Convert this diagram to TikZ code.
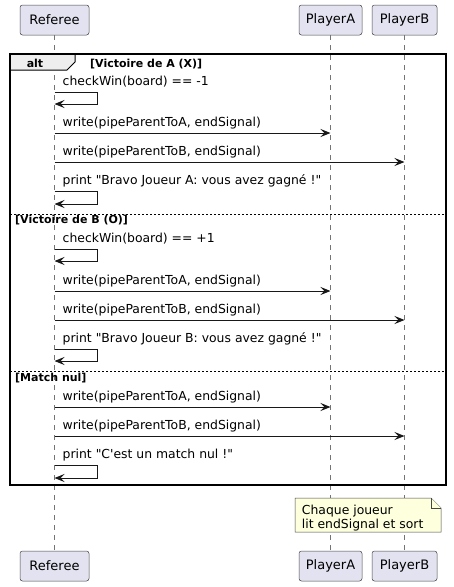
\documentclass[tikz,border=0pt]{standalone}
\usepackage{fontspec}
\setmainfont{DejaVu Sans}[Ligatures=TeXOff]
\usepackage{xcolor}
\usetikzlibrary{arrows.meta,calc,positioning}
\definecolor{ink}{HTML}{181818}
\definecolor{partfill}{HTML}{E2E2F0}
\definecolor{notefill}{HTML}{FEFFDD}
\definecolor{tabfill}{HTML}{EEEEEE}
\tikzset{
  >={Stealth[length=10pt,width=8pt,inset=4pt]},
  part/.style={draw=ink!80,fill=partfill,rounded corners=2.5pt,line width=0.5pt,
               minimum height=30pt,inner sep=0pt,font=\fontsize{13}{15}\selectfont},
  life/.style={draw=ink!60,line width=0.5pt,dash pattern=on 5pt off 5pt},
  msg/.style={->,draw=ink,line width=1pt},
  lbl/.style={anchor=base west,inner sep=0pt,font=\fontsize{12.4}{15}\selectfont},
  frame/.style={draw=black,line width=1.5pt},
  sep/.style={draw=black,line width=1pt,dash pattern=on 2pt off 2pt},
  guard/.style={anchor=base west,inner sep=0pt,font=\bfseries\fontsize{11}{13}\selectfont},
  notebox/.style={draw=ink!80,fill=notefill,line width=0.5pt}
}
\begin{document}
\begin{tikzpicture}[x=1pt,y=-1pt]
  \useasboundingbox (0,0) rectangle (453,587);
  % participants, top and bottom
  \node[part,minimum width=69pt] (ref) at (54.5,20) {Referee};
  \node[part,minimum width=63pt] (pa) at (330.5,20) {PlayerA};
  \node[part,minimum width=65pt] (pb) at (404.5,20) {PlayerB};
  \node[part,minimum width=69pt] (refb) at (54.5,566) {Referee};
  \node[part,minimum width=63pt] (pab) at (330.5,566) {PlayerA};
  \node[part,minimum width=65pt] (pbb) at (404.5,566) {PlayerB};
  \draw[life] (ref.south) -- (refb.north);
  \draw[life] (pa.south) -- (pab.north);
  \draw[life] (pb.south) -- (pbb.north);
  % alt frame
  \draw[line width=1pt,fill=tabfill] (10,54) -- (75,54) -- (75,62) -- (67,70) -- (10,70);
  \draw[frame] (10,54) rectangle (446,485);
  \node[guard,anchor=base] (alt) at (35,67) {alt};
  \node[guard] (g1) at (90,67) {[Victoire de A (X)]};
  \draw[sep] (10,214) -- (446,214);
  \node[guard] (g2) at (15,223) {[Victoire de B (O)]};
  \draw[sep] (10,371) -- (446,371);
  \node[guard] (g3) at (15,381) {[Match nul]};
  % rows
  \coordinate (c1) at (0,92);  \coordinate (c1b) at (0,104);
  \coordinate (w1) at (0,133); \coordinate (w2) at (0,162);
  \coordinate (c2) at (0,191); \coordinate (c2b) at (0,204);
  \coordinate (c3) at (0,249); \coordinate (c3b) at (0,261);
  \coordinate (w3) at (0,291); \coordinate (w4) at (0,320);
  \coordinate (c4) at (0,349); \coordinate (c4b) at (0,361);
  \coordinate (w5) at (0,407); \coordinate (w6) at (0,436);
  \coordinate (c5) at (0,465); \coordinate (c5b) at (0,478);
  % Victoire de A
  \node[lbl] (t1) at ($(ref|-c1)+(8,-6.5)$) {checkWin(board) == -1};
  \draw[msg] (ref|-c1) -- ++(43,0) |- (ref|-c1b);
  \node[lbl] (t2) at ($(ref|-w1)+(8,-6.5)$) {write(pipeParentToA, endSignal)};
  \draw[msg] (ref|-w1) -- (pa|-w1);
  \node[lbl] (t3) at ($(ref|-w2)+(8,-6.5)$) {write(pipeParentToB, endSignal)};
  \draw[msg] (ref|-w2) -- (pb|-w2);
  \node[lbl] (t4) at ($(ref|-c2)+(8,-6.5)$) {print "Bravo Joueur A: vous avez gagné !"};
  \draw[msg] (ref|-c2) -- ++(43,0) |- (ref|-c2b);
  % Victoire de B
  \node[lbl] (t5) at ($(ref|-c3)+(8,-6.5)$) {checkWin(board) == +1};
  \draw[msg] (ref|-c3) -- ++(43,0) |- (ref|-c3b);
  \node[lbl] (t6) at ($(ref|-w3)+(8,-6.5)$) {write(pipeParentToA, endSignal)};
  \draw[msg] (ref|-w3) -- (pa|-w3);
  \node[lbl] (t7) at ($(ref|-w4)+(8,-6.5)$) {write(pipeParentToB, endSignal)};
  \draw[msg] (ref|-w4) -- (pb|-w4);
  \node[lbl] (t8) at ($(ref|-c4)+(8,-6.5)$) {print "Bravo Joueur B: vous avez gagné !"};
  \draw[msg] (ref|-c4) -- ++(43,0) |- (ref|-c4b);
  % Match nul
  \node[lbl] (t9) at ($(ref|-w5)+(8,-6.5)$) {write(pipeParentToA, endSignal)};
  \draw[msg] (ref|-w5) -- (pa|-w5);
  \node[lbl] (t10) at ($(ref|-w6)+(8,-6.5)$) {write(pipeParentToB, endSignal)};
  \draw[msg] (ref|-w6) -- (pb|-w6);
  \node[lbl] (t11) at ($(ref|-c5)+(8,-6.5)$) {print "C'est un match nul !"};
  \draw[msg] (ref|-c5) -- ++(43,0) |- (ref|-c5b);
  % note
  \draw[notebox] (295,498) -- (431,498) -- (441,508) -- (441,532) -- (295,532) -- cycle;
  \draw[notebox] (431,498) -- (431,508) -- (441,508);
  \node[lbl,anchor=north west,align=left,font=\fontsize{12.4}{14}\selectfont] (note) at (301.7,504.5) {Chaque joueur\\lit endSignal et sort};
\end{tikzpicture}
\end{document}
